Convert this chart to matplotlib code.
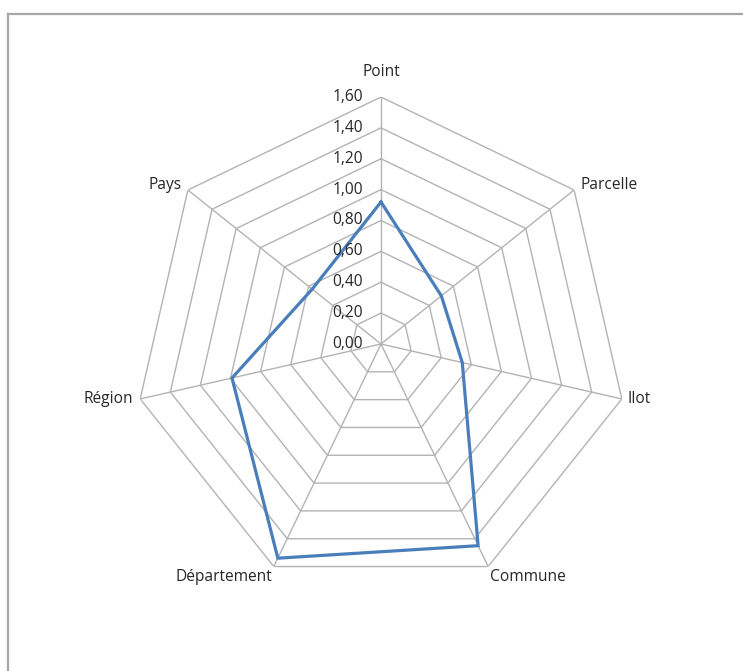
import numpy as np
import matplotlib.pyplot as plt
from matplotlib.lines import Line2D

categories = ["Point", "Parcelle", "Ilot", "Commune", "Département", "Région", "Pays"]
values = [0.92, 0.50, 0.54, 1.45, 1.54, 0.99, 0.57]
levels = [0.0, 0.2, 0.4, 0.6, 0.8, 1.0, 1.2, 1.4, 1.6]
level_labels = ["0,00", "0,20", "0,40", "0,60", "0,80", "1,00", "1,20", "1,40", "1,60"]

plt.rcParams['font.family'] = ['Open Sans', 'DejaVu Sans']
W, H = 743, 671
fig = plt.figure(figsize=(W / 100, H / 100), dpi=100)

# chart frame (left and top edges visible)
fig.add_artist(Line2D([8 / W, 8 / W], [0, 1 - 14 / H], transform=fig.transFigure,
                      color='#a6a6a6', lw=1.6))
fig.add_artist(Line2D([8 / W, 1], [1 - 14 / H, 1 - 14 / H], transform=fig.transFigure,
                      color='#a6a6a6', lw=1.6))

cx, cy, R = 381, 344, 247
ax = fig.add_axes([(cx - R) / W, (H - cy - R) / H, 2 * R / W, 2 * R / H], projection='polar')
ax.set_theta_zero_location('N')
ax.set_theta_direction(-1)
ax.set_ylim(0, 1.6)
ax.grid(False)
ax.spines['polar'].set_visible(False)
ax.set_xticks([])
ax.set_yticks([])
ax.patch.set_alpha(0)

n = len(categories)
theta = np.arange(n) * 2 * np.pi / n
theta_closed = np.append(theta, theta[0])

grid_kw = dict(color='#b3b3b3', lw=1.0, zorder=1)
for lv in levels[1:]:
    ax.plot(theta_closed, [lv] * (n + 1), **grid_kw)
for t in theta:
    ax.plot([t, t], [0, levels[-1]], **grid_kw)

ax.plot(theta_closed, values + values[:1], color='#4a7ebb', lw=2.3, zorder=3,
        solid_joinstyle='miter', clip_on=False)

txt = '#262626'
fs = 11.2
for lv, lab in zip(levels, level_labels):
    ax.annotate(lab, (0, lv), xytext=(-18, 0), textcoords='offset pixels',
                ha='right', va='center', fontsize=fs, color=txt, annotation_clip=False)

label_pos = {
    "Point": ((0, 25), 'center'),
    "Parcelle": ((6, 5), 'left'),
    "Ilot": ((6, 0), 'left'),
    "Commune": ((2, -10), 'left'),
    "Département": ((-2, -10), 'right'),
    "Région": ((-7, 0), 'right'),
    "Pays": ((-6, 5), 'right'),
}
for t, cat in zip(theta, categories):
    off, ha = label_pos[cat]
    ax.annotate(cat, (t, levels[-1]), xytext=off, textcoords='offset pixels',
                ha=ha, va='center', fontsize=fs, color=txt, annotation_clip=False)

fig.savefig('out.png', dpi=100)
